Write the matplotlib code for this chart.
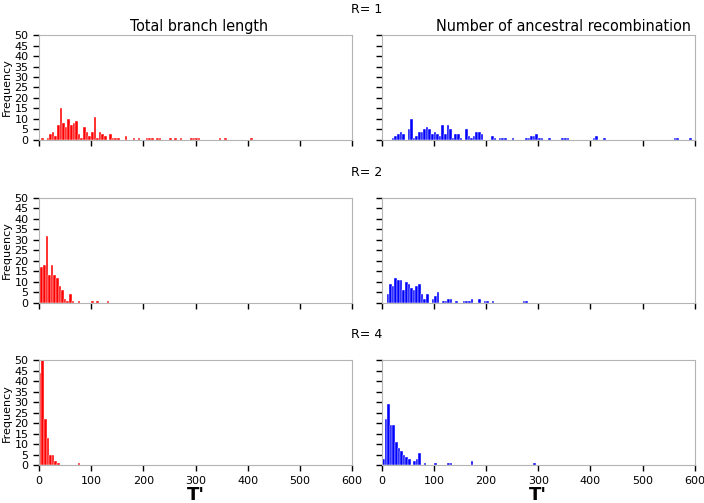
import matplotlib
matplotlib.use("Agg")
import matplotlib.pyplot as plt

# bin centres and counts (bin width 5)
r1_len_x = [7, 17, 22, 27, 32, 37, 42, 47, 52, 57, 62, 67, 72, 77, 82, 87, 92, 97, 102, 107,
            112, 117, 122, 127, 137, 142, 147, 152, 167, 182, 192, 207, 212, 217, 227, 232,
            252, 262, 272, 292, 297, 302, 307, 347, 357, 407]
r1_len_y = [1, 1, 3, 4, 2, 7, 15, 8, 6, 10, 7, 8, 9, 3, 1, 6, 4, 2, 4, 11,
            1, 4, 3, 2, 3, 1, 1, 1, 2, 1, 1, 1, 1, 1, 1, 1,
            1, 1, 1, 1, 1, 1, 1, 1, 1, 1]

r1_rec_x = [22, 27, 32, 37, 42, 52, 57, 62, 67, 72, 77, 82, 87, 92, 97, 102, 107, 112, 117, 122,
            127, 132, 137, 142, 147, 152, 162, 167, 172, 177, 182, 187, 192, 212, 217, 227,
            232, 237, 252, 277, 282, 287, 292, 297, 302, 307, 322, 347, 352, 357, 407, 412,
            427, 562, 567, 592]
r1_rec_y = [1, 2, 3, 4, 3, 5, 10, 1, 2, 4, 4, 5, 6, 5, 3, 4, 3, 2, 7, 3,
            7, 5, 1, 3, 3, 1, 5, 2, 1, 2, 4, 4, 3, 2, 1, 1,
            1, 1, 1, 1, 1, 2, 2, 3, 1, 1, 1, 1, 1, 1, 1, 2,
            1, 1, 1, 1]

r2_len_x = [5, 10, 15, 20, 25, 30, 35, 40, 45, 50, 55, 60, 65, 77, 102, 112, 132]
r2_len_y = [17, 18, 32, 13, 18, 13, 12, 8, 6, 2, 1, 4, 1, 1, 1, 1, 1]

r2_rec_x = [12, 17, 22, 27, 32, 37, 42, 47, 52, 57, 62, 67, 72, 77, 82, 88, 98, 103, 108,
            118, 123, 128, 133, 143, 158, 163, 168, 173, 188, 198, 203, 213, 273, 278]
r2_rec_y = [4, 9, 8, 12, 11, 11, 6, 10, 9, 7, 6, 8, 9, 4, 2, 4, 2, 3, 5,
            1, 1, 2, 2, 1, 1, 1, 1, 2, 2, 1, 1, 1, 1, 1]

r4_len_x = [2, 7, 12, 17, 22, 27, 32, 37, 77]
r4_len_y = [44, 50, 22, 13, 5, 5, 2, 1, 1]

r4_rec_x = [3, 8, 13, 18, 23, 28, 33, 38, 43, 48, 53, 63, 68, 73, 83, 103, 128, 133, 173, 293]
r4_rec_y = [3, 22, 29, 19, 19, 11, 8, 7, 5, 4, 3, 2, 3, 6, 1, 1, 1, 1, 2, 1]

rows = [("R= 1", (r1_len_x, r1_len_y), (r1_rec_x, r1_rec_y)),
        ("R= 2", (r2_len_x, r2_len_y), (r2_rec_x, r2_rec_y)),
        ("R= 4", (r4_len_x, r4_len_y), (r4_rec_x, r4_rec_y))]

col_titles = ["Total branch length", "Number of ancestral recombination"]
title_x = [0.51, 0.58]
colors = ["#ff0000", "#0000ff"]

fig = plt.figure(figsize=(7.04, 5.03), dpi=100)

lefts = [0.0554, 0.5422]
bottoms = [0.7217, 0.3982, 0.0750]
w, h = 0.4446, 0.2087

for i, (rlab, left_data, right_data) in enumerate(rows):
    for j, (xs, ys) in enumerate([left_data, right_data]):
        ax = fig.add_axes([lefts[j], bottoms[i], w, h])
        ax.bar(xs, ys, width=5, color=colors[j], edgecolor="white", linewidth=0.3)
        ax.set_xlim(0, 600)
        ax.set_ylim(0, 50)
        ax.set_yticks(range(0, 51, 5))
        ax.set_xticks(range(0, 601, 100))
        for s in ax.spines.values():
            s.set_color("#b4b4b4")
        ax.tick_params(direction="out", length=4.5, width=1, color="black", labelsize=8, pad=3)
        if j == 1:
            ax.set_yticklabels([])
        else:
            ax.set_ylabel("Frequency", fontsize=8, labelpad=2)
        if i < 2:
            ax.set_xticklabels([])
        else:
            ax.set_xlabel("T'", fontsize=13, fontweight="bold", labelpad=0)
        if i == 0:
            ax.set_title(col_titles[j], fontsize=11.5, fontstretch="condensed", pad=3,
                         x=title_x[j])
    fig.text(0.5206, bottoms[i] + h + 0.044, rlab, ha="center", va="baseline", fontsize=9)

fig.savefig("out.png", dpi=100)
